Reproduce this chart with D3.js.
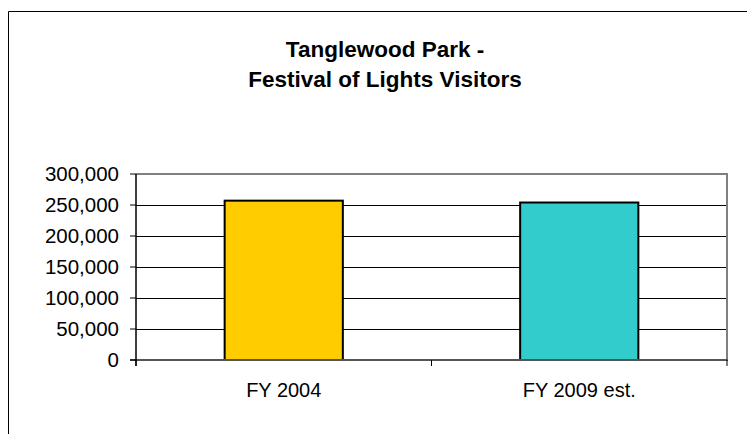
<!DOCTYPE html>
<html><head><meta charset="utf-8">
<script src="https://cdn.jsdelivr.net/npm/d3@7"></script>
<style>html,body{margin:0;background:#fff;overflow:hidden}svg{display:block}text{font-family:Arial,"Liberation Sans",sans-serif}</style>
</head><body>
<script>
const categories = ["FY 2004", "FY 2009 est."];
const visitors = [257000, 254000];
const yTicks = [0, 50000, 100000, 150000, 200000, 250000, 300000];
const titleLines = ["Tanglewood Park -", "Festival of Lights Visitors"];
const barColors = ["#FFCC00", "#33CCCC"];

const W = 747, H = 434;
const svg = d3.select("body").append("svg").attr("width", W).attr("height", H);

// outer chart border (extends past the window on the right and bottom)
svg.append("path").attr("d", `M8.5,${H + 5}V11.5H${W + 5}`)
  .attr("fill", "none").attr("stroke", "#000").attr("stroke-width", 1);

const L = 136, R = 727, T = 174, B = 360;
const x = d3.scaleBand().domain(categories).range([L, R]).paddingInner(0.6).paddingOuter(0.3);
const xb = d3.scaleBand().domain(categories).range([L, R]);
const y = d3.scaleLinear().domain([0, 300000]).range([B, T]);

// gridlines
svg.append("g").selectAll("line").data(yTicks.filter(d => d > 0 && d < 300000)).join("line")
  .attr("x1", L).attr("x2", R).attr("y1", d => y(d)).attr("y2", d => y(d))
  .attr("stroke", "#000").attr("stroke-width", 1).attr("shape-rendering", "crispEdges");

// plot border top & right (gray)
svg.append("line").attr("x1", L).attr("x2", R + 1).attr("y1", y(300000)).attr("y2", y(300000))
  .attr("stroke", "#808080").attr("stroke-width", 2);
svg.append("line").attr("x1", R).attr("x2", R).attr("y1", T).attr("y2", B)
  .attr("stroke", "#808080").attr("stroke-width", 2);

// bars
svg.append("g").selectAll("rect").data(categories).join("rect")
  .attr("x", d => x(d)).attr("width", x.bandwidth())
  .attr("y", (d, i) => y(visitors[i])).attr("height", (d, i) => B - y(visitors[i]))
  .attr("fill", (d, i) => barColors[i]).attr("stroke", "#000").attr("stroke-width", 2);

// bottom axis line
svg.append("line").attr("x1", L - 6).attr("x2", R + 1).attr("y1", B).attr("y2", B)
  .attr("stroke", "#555").attr("stroke-width", 2);
// x ticks at band boundaries
const xTickPos = [L].concat(categories.map(c => xb(c) + xb.bandwidth()));
svg.append("g").selectAll("line").data(xTickPos).join("line")
  .attr("x1", d => d).attr("x2", d => d).attr("y1", B).attr("y2", B + 6)
  .attr("stroke", "#000").attr("stroke-width", 1);

// left axis
svg.append("line").attr("x1", L).attr("x2", L).attr("y1", T).attr("y2", B + 6)
  .attr("stroke", "#000").attr("stroke-width", 1.5);
svg.append("g").selectAll("line").data(yTicks).join("line")
  .attr("x1", L - 6).attr("x2", L).attr("y1", d => y(d)).attr("y2", d => y(d))
  .attr("stroke", "#000").attr("stroke-width", 1);

const fmt = d3.format(",");
svg.append("g").selectAll("text").data(yTicks).join("text")
  .attr("x", 119).attr("y", d => y(d) + 7)
  .attr("text-anchor", "end").attr("font-size", 20.5).attr("fill", "#000")
  .text(d => fmt(d));

svg.append("g").selectAll("text").data(categories).join("text")
  .attr("x", d => xb(d) + xb.bandwidth() / 2).attr("y", 397)
  .attr("text-anchor", "middle").attr("font-size", 20).attr("fill", "#000")
  .text(d => d);

svg.append("g").selectAll("text").data(titleLines).join("text")
  .attr("x", 385).attr("y", (d, i) => 57 + i * 30)
  .attr("text-anchor", "middle").attr("font-size", 22.5).attr("font-weight", "bold").attr("fill", "#000")
  .text(d => d);
</script>
</body></html>
